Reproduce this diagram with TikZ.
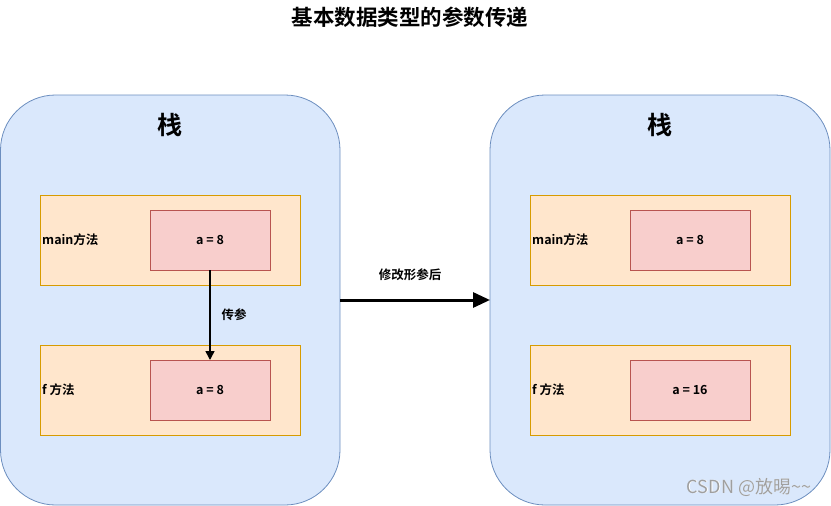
\documentclass[tikz,border=0pt]{standalone}
\usepackage{fontspec}
\setmainfont{Noto Sans CJK SC}[BoldFont={* Bold}]
\newfontfamily\wmfont{Noto Sans CJK SC}
\usetikzlibrary{arrows.meta}
\definecolor{stackfill}{HTML}{DAE8FC}
\definecolor{stackline}{HTML}{6C8EBF}
\definecolor{framefill}{HTML}{FFE6CC}
\definecolor{frameline}{HTML}{D79B00}
\definecolor{varfill}{HTML}{F8CECC}
\definecolor{varline}{HTML}{B85450}
\tikzset{
  stackbox/.style={draw=stackline, fill=stackfill, rounded corners=55pt, line width=0.8pt},
  framebox/.style={draw=frameline, fill=framefill, line width=0.8pt},
  varbox/.style={draw=varline, fill=varfill, line width=0.8pt},
  lbl/.style={font=\bfseries\fontsize{12.5}{14}\selectfont, inner sep=0pt},
  arr/.style={-{Triangle[length=9pt,width=9pt]}, line width=1.6pt},
  bigarr/.style={-{Triangle[length=17pt,width=15pt]}, line width=3pt}
}
\begin{document}
\begin{tikzpicture}[x=1pt,y=-1pt]
\useasboundingbox (0,0) rectangle (831,506);
\node[font=\bfseries\fontsize{21.5}{24}\selectfont] (title) at (410,17) {基本数据类型的参数传递};
% left stack
\draw[stackbox] (0.5,95) rectangle (340,505);
\node[font=\bfseries\fontsize{25}{28}\selectfont] (s1) at (170,125) {栈};
\draw[framebox] (40,195) rectangle (300,285);
\node[lbl, anchor=west] (m1) at (42,240) {main方法};
\draw[varbox] (150,210) rectangle (270,270);
\node[lbl] (va) at (210,240) {a = 8};
\coordinate (vat) at (210,270);
\draw[framebox] (40,345) rectangle (300,435);
\node[lbl, anchor=west] (f1) at (42,390) {f 方法};
\draw[varbox] (150,360) rectangle (270,420);
\node[lbl] (vb) at (210,390) {a = 8};
\coordinate (vbt) at (210,360);
\draw[arr] (vat) -- (vbt);
\node[lbl] (cp) at (234,315) {传参};
% right stack
\draw[stackbox] (490,95) rectangle (830,505);
\node[font=\bfseries\fontsize{25}{28}\selectfont] (s2) at (660,125) {栈};
\draw[framebox] (530,195) rectangle (790,285);
\node[lbl, anchor=west] (m2) at (532,240) {main方法};
\draw[varbox] (630,210) rectangle (750,270);
\node[lbl] (vc) at (690,240) {a = 8};
\draw[framebox] (530,345) rectangle (790,435);
\node[lbl, anchor=west] (f2) at (532,390) {f 方法};
\draw[varbox] (630,360) rectangle (750,420);
\node[lbl] (vd) at (690,390) {a = 16};
% big arrow
\coordinate (ba) at (340,300);
\coordinate (bb) at (490,300);
\draw[bigarr] (ba) -- (bb);
\node[lbl] (mod) at (410,275) {修改形参后};
% watermark
\node[font=\wmfont\fontsize{18}{20}\selectfont, text=white, inner sep=0pt] at (749.7,487.7) {CSDN @放晹\textasciitilde\textasciitilde};
\node[font=\wmfont\fontsize{18}{20}\selectfont, text=gray!75, inner sep=0pt] (wm) at (749,487) {CSDN @放晹\textasciitilde\textasciitilde};
\end{tikzpicture}
\end{document}
